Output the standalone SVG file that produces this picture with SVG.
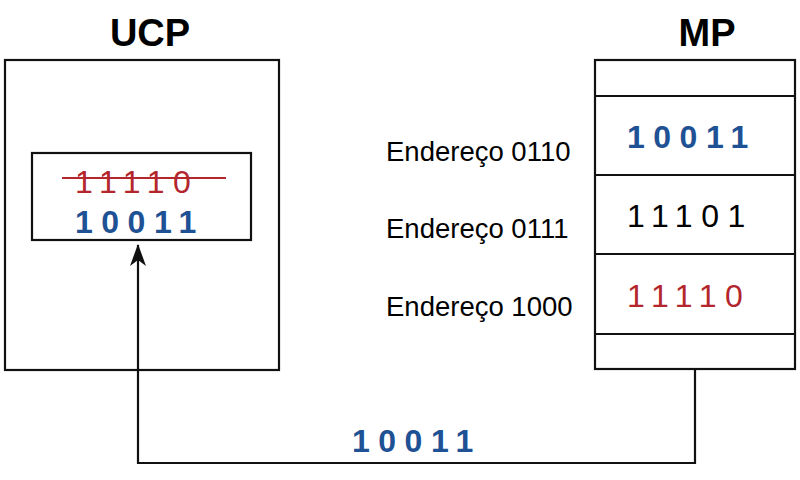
<svg xmlns="http://www.w3.org/2000/svg" width="800" height="480" viewBox="0 0 800 480">
<style>
.box{fill:#fff;stroke:#111;stroke-width:2.2}
.title{font-family:"Liberation Sans",Arial,sans-serif;font-weight:bold;font-size:38px;fill:#000;text-anchor:middle}
.lbl{font-family:"Liberation Sans",Arial,sans-serif;font-size:27.5px;fill:#000}
.bits{font-family:"Liberation Sans",Arial,sans-serif;font-size:32px;letter-spacing:8.5px}
.blue{fill:#1f5195;font-weight:bold}
.red{fill:#b3262d}
.black{fill:#000}
.conn{fill:none;stroke:#111;stroke-width:2.2}
</style>
<defs>
<marker id="arr" viewBox="0 0 22 16" refX="21" refY="8" markerWidth="22" markerHeight="16" markerUnits="userSpaceOnUse" orient="auto">
<path d="M0,0 L22,8 L0,16 L6,8 Z" fill="#111"/>
</marker>
</defs>
<g id="ucp">
<text class="title" x="150" y="46">UCP</text>
<rect class="box" x="5" y="60" width="274" height="310"/>
<rect class="box" x="32" y="153" width="219" height="87"/>
<text class="bits red" x="75" y="193">11110</text>
<line x1="62" y1="178" x2="226" y2="178" stroke="#b3262d" stroke-width="2.2"/>
<text class="bits blue" x="75" y="233">10011</text>
</g>
<g id="mp">
<text class="title" x="707" y="46">MP</text>
<rect class="box" x="595" y="60" width="200" height="309"/>
<line class="conn" x1="595" y1="96" x2="795" y2="96"/>
<line class="conn" x1="595" y1="175" x2="795" y2="175"/>
<line class="conn" x1="595" y1="254" x2="795" y2="254"/>
<line class="conn" x1="595" y1="334" x2="795" y2="334"/>
<text class="bits blue" x="627" y="148">10011</text>
<text class="bits black" x="627" y="227">11101</text>
<text class="bits red" x="627" y="307">11110</text>
</g>
<g id="labels">
<text class="lbl" x="386" y="161">Endereço 0110</text>
<text class="lbl" x="386" y="238">Endereço 0111</text>
<text class="lbl" x="386" y="316">Endereço 1000</text>
</g>
<g id="connectors">
<path class="conn" d="M695,369 V463 H138 V245" marker-end="url(#arr)"/>
<text class="bits blue" x="352" y="452">10011</text>
</g>
</svg>
